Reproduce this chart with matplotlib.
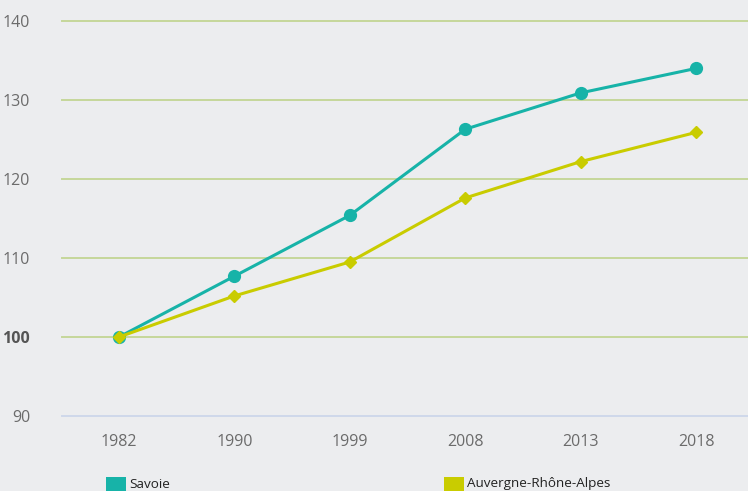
import matplotlib
matplotlib.use("Agg")
import matplotlib.pyplot as plt
from matplotlib.patches import Rectangle

years = ["1982", "1990", "1999", "2008", "2013", "2018"]
savoie = [100, 107.7, 115.4, 126.3, 130.9, 134.0]
ara = [100, 105.2, 109.5, 117.6, 122.2, 125.9]
series_names = ["Savoie", "Auvergne-Rhône-Alpes"]
colors = ["#17b3a8", "#c9cc00"]
yticks = [90, 100, 110, 120, 130, 140]

plt.rcParams['font.family'] = ['Open Sans', 'DejaVu Sans']
bg = "#ecedef"
fig = plt.figure(figsize=(7.48, 4.91), dpi=100, facecolor=bg)
ax = fig.add_axes([62/748, 1-416/491, 1-62/748, (416-21)/491])
ax.set_facecolor(bg)

x = list(range(len(years)))
ax.plot(x, savoie, color=colors[0], lw=2.2, marker='o', ms=8.5, zorder=3, clip_on=False)
ax.plot(x, ara, color=colors[1], lw=2.2, marker='D', ms=6, zorder=4, clip_on=False)

ax.set_ylim(90, 140)
ax.set_xlim(-0.494, 5.45)
ax.set_yticks(yticks)
ax.set_xticks(x)
ax.set_xticklabels(years)
for yv in yticks:
    c = "#cfd8ea" if yv == 90 else "#c5d79a"
    ax.axhline(yv, color=c, lw=1.4, zorder=1, clip_on=False)
for s in ax.spines.values():
    s.set_visible(False)
ax.tick_params(length=0, labelcolor="#6b6b6b")
ax.tick_params(axis='y', pad=23, labelsize=11.5)
ax.tick_params(axis='x', pad=13, labelsize=11.5)
for lab in ax.get_yticklabels():
    if lab.get_text() == "100":
        lab.set_fontweight("bold")
        lab.set_color("#555555")

# legend
leg_x = [106, 444]
for name, col, lx in zip(series_names, colors, leg_x):
    fig.patches.append(Rectangle((lx/748, 0), 20/748, 14/491, transform=fig.transFigure,
                                 facecolor=col, edgecolor='none'))
    fig.text((lx+23)/748, 7/491, name, fontsize=9.7, color="#222222", va='center', ha='left')

fig.savefig("out.png", dpi=100, facecolor=bg)
